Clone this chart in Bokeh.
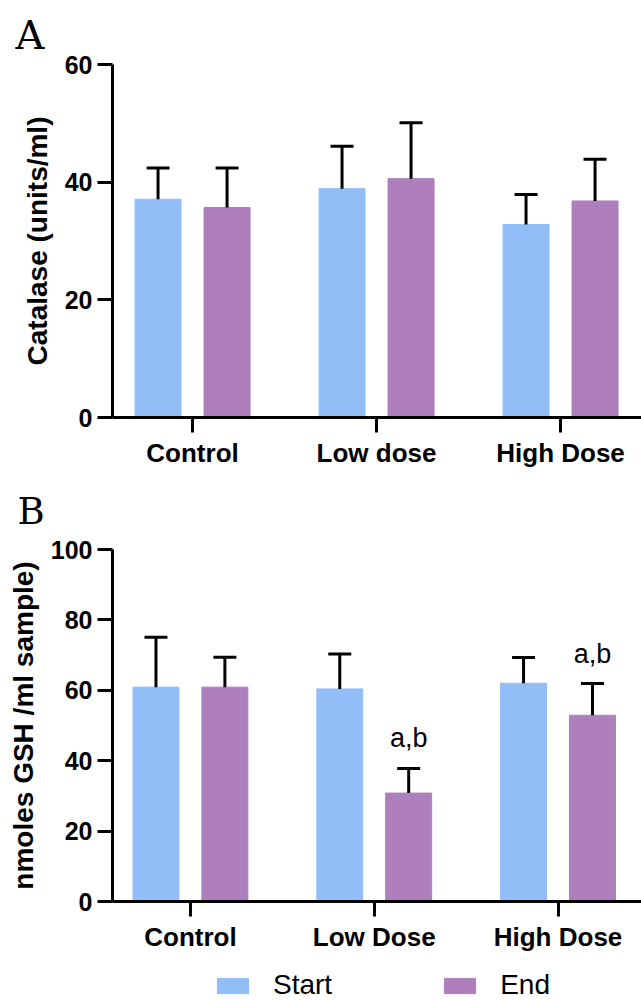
from bokeh.plotting import figure
from bokeh.layouts import column
from bokeh.models import (ColumnDataSource, Range1d, FixedTicker, Whisker, TeeHead,
                          Legend, LegendItem)
from bokeh.transform import dodge
from bokeh.core.properties import value
from bokeh.embed import file_html
from bokeh.resources import INLINE

# ---------------- data ----------------
groups_a = ["Control", "Low dose", "High Dose"]
catalase_start = [37.1, 38.9, 32.8]
catalase_start_err = [5.3, 7.2, 5.1]
catalase_end = [35.7, 40.6, 36.8]
catalase_end_err = [6.7, 9.5, 7.1]

groups_b = ["Control", "Low Dose", "High Dose"]
gsh_start = [60.9, 60.4, 62.0]
gsh_start_err = [14.2, 9.9, 7.3]
gsh_end = [60.9, 30.8, 52.9]
gsh_end_err = [8.5, 7.0, 9.0]
gsh_end_sig = ["", "a,b", "a,b"]

ticks_a = [0, 20, 40, 60]
ticks_b = [0, 20, 40, 60, 80, 100]

series_names = ["Start", "End"]
START_COLOR = "#92BEF8"
END_COLOR = "#AF7FBD"
FONT = "Liberation Sans"
LEFT = 112
FW = 641 - LEFT


def make_panel(groups, start, start_err, end, end_err, ylabel, yticks, letter,
               fh, top, bottom, xstart, px_per_unit, letter_offset,
               letter_size, letter_standoff, sig=None):
    n = len(groups)
    data = dict(
        x=list(range(n)),
        start=start,
        start_up=[m + e for m, e in zip(start, start_err)],
        end=end,
        end_up=[m + e for m, e in zip(end, end_err)],
    )
    if sig is not None:
        data["sig"] = sig
    src = ColumnDataSource(data)

    p = figure(frame_width=FW, frame_height=fh,
               x_range=Range1d(xstart, xstart + FW / px_per_unit),
               y_range=Range1d(yticks[0], yticks[-1]),
               min_border_left=LEFT, min_border_right=0,
               min_border_top=top, min_border_bottom=bottom,
               output_backend="svg", toolbar_location=None)
    p.outline_line_color = None
    p.xgrid.grid_line_color = None
    p.ygrid.grid_line_color = None
    p.background_fill_color = "white"
    p.border_fill_color = "white"

    # panel letter as the figure title
    p.title.text = letter
    p.title.align = "left"
    p.title.offset = letter_offset
    p.title.standoff = letter_standoff
    p.title.text_font = "DejaVu Serif"
    p.title.text_font_style = "normal"
    p.title.text_font_size = letter_size
    p.title.text_color = "black"

    p.vbar(x=dodge("x", -0.1875), top="start", bottom=0, width=0.25, source=src,
           fill_color=START_COLOR, line_color=START_COLOR, line_width=1)
    p.vbar(x=dodge("x", 0.1875), top="end", bottom=0, width=0.25, source=src,
           fill_color=END_COLOR, line_color=END_COLOR, line_width=1)

    for off, lo, up in [(-0.1875, "start", "start_up"), (0.1875, "end", "end_up")]:
        w = Whisker(base=dodge("x", off), lower=lo, upper=up, source=src,
                    line_width=3, line_color="black", level="annotation",
                    upper_head=TeeHead(size=23, line_width=3, line_color="black"),
                    lower_head=None)
        p.add_layout(w)

    if sig is not None:
        p.text(x=dodge("x", 0.1875), y="end_up", text="sig", source=src,
               text_align="center", text_baseline="middle", y_offset=-30,
               text_font=value(FONT), text_font_size="27px", text_color="black")

    # axes
    p.xaxis.ticker = FixedTicker(ticks=list(range(n)))
    p.xaxis.major_label_overrides = {i: g for i, g in enumerate(groups)}
    p.yaxis.ticker = FixedTicker(ticks=yticks)
    for ax in (p.xaxis, p.yaxis):
        ax.axis_line_width = 3
        ax.axis_line_color = "black"
        ax.major_tick_line_width = 3
        ax.major_tick_line_color = "black"
        ax.major_tick_out = 15
        ax.major_tick_in = 0
        ax.minor_tick_line_color = None
        ax.major_label_text_font = FONT
        ax.major_label_text_font_style = "bold"
        ax.major_label_text_color = "black"
    p.xaxis.major_label_text_font_size = "26px"
    p.xaxis.major_label_standoff = 5
    p.yaxis.major_label_text_font_size = "25px"
    p.yaxis.major_label_standoff = 5
    p.yaxis.axis_label = ylabel
    p.yaxis.axis_label_text_font = FONT
    p.yaxis.axis_label_text_font_style = "bold"
    p.yaxis.axis_label_text_font_size = "28px"
    p.yaxis.axis_label_text_color = "black"
    p.yaxis.axis_label_standoff = 9
    return p, src


pA, srcA = make_panel(groups_a, catalase_start, catalase_start_err, catalase_end,
                      catalase_end_err, "Catalase (units/ml)", ticks_a, "A",
                      fh=353, top=64, bottom=54,
                      xstart=-0.435, px_per_unit=184.0,
                      letter_offset=-97, letter_size="40px", letter_standoff=13)

pB, srcB = make_panel(groups_b, gsh_start, gsh_start_err, gsh_end, gsh_end_err,
                      "nmoles GSH /ml sample)", ticks_b, "B",
                      fh=352, top=78, bottom=68,
                      xstart=-0.424, px_per_unit=183.8,
                      letter_offset=-95, letter_size="37px", letter_standoff=33,
                      sig=gsh_end_sig)

# ---------------- legend strip (keys for panel B's two series) ----------------
pL = figure(frame_width=FW, frame_height=32, min_border_left=LEFT, min_border_right=0,
            min_border_top=0, min_border_bottom=0,
            x_range=pB.x_range, y_range=Range1d(1000, 1001),
            x_axis_type=None, y_axis_type=None,
            output_backend="svg", toolbar_location=None)
pL.outline_line_color = None
pL.xgrid.grid_line_color = None
pL.ygrid.grid_line_color = None
pL.background_fill_color = "white"
pL.border_fill_color = "white"
l1 = pL.vbar(x=dodge("x", -0.1875), top="start", bottom=0, width=0.25, source=srcB,
             fill_color=START_COLOR, line_color=START_COLOR)
l2 = pL.vbar(x=dodge("x", 0.1875), top="end", bottom=0, width=0.25, source=srcB,
             fill_color=END_COLOR, line_color=END_COLOR)

legend = Legend(items=[LegendItem(label=series_names[0], renderers=[l1]),
                       LegendItem(label=series_names[1], renderers=[l2])],
                orientation="horizontal", location=(101, 0),
                glyph_width=39, glyph_height=19, label_standoff=21, spacing=108,
                padding=0, margin=0, border_line_color=None, background_fill_alpha=0,
                label_text_font=FONT, label_text_font_size="28px", label_text_color="black")
pL.add_layout(legend)

layout = column(pA, pB, pL)
open("out.html", "w").write(file_html(layout, INLINE))
